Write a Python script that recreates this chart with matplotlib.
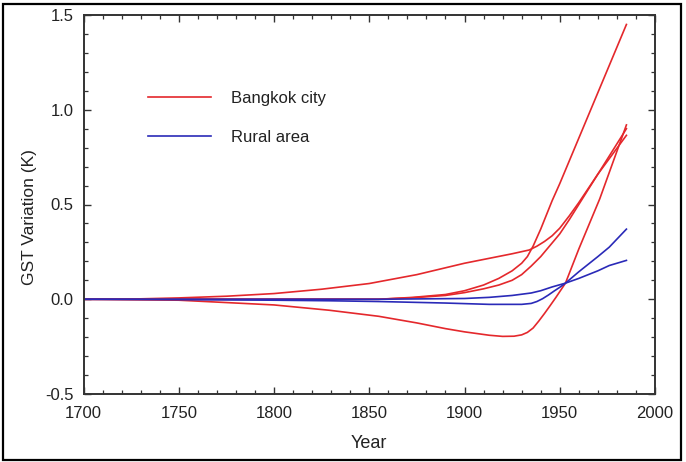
import matplotlib
matplotlib.use("Agg")
import matplotlib.pyplot as plt
from matplotlib.patches import Rectangle
from matplotlib.ticker import MultipleLocator

plt.rcParams['font.family'] = ['Liberation Sans', 'DejaVu Sans']

# ---- data ----
red_a_years = [1700, 1750, 1800, 1855, 1873, 1890, 1900, 1910, 1918, 1925, 1930, 1933, 1936, 1940, 1946, 1950, 1960, 1970, 1985]
red_a_vals = [0.0, 0.0, 0.0, 0.0, 0.01, 0.025, 0.045, 0.075, 0.11, 0.15, 0.19, 0.225, 0.28, 0.37, 0.52, 0.61, 0.85, 1.09, 1.45]

red_b_years = [1700, 1725, 1750, 1775, 1800, 1825, 1850, 1875, 1900, 1925, 1934, 1938, 1942, 1946, 1950, 1955, 1960, 1970, 1985]
red_b_vals = [0.0, 0.001, 0.007, 0.016, 0.03, 0.053, 0.083, 0.13, 0.19, 0.24, 0.26, 0.28, 0.305, 0.335, 0.375, 0.44, 0.51, 0.66, 0.865]

red_c_years = [1700, 1750, 1800, 1855, 1873, 1890, 1900, 1910, 1918, 1925, 1930, 1935, 1940, 1945, 1950, 1955, 1960, 1970, 1985]
red_c_vals = [0.0, 0.0, 0.0, 0.0, 0.008, 0.02, 0.035, 0.055, 0.075, 0.1, 0.13, 0.175, 0.225, 0.285, 0.345, 0.42, 0.5, 0.66, 0.9]

red_d_years = [1700, 1750, 1800, 1829, 1855, 1875, 1890, 1900, 1913, 1920, 1926, 1930, 1933, 1936, 1939, 1942, 1945, 1948, 1953, 1960, 1971, 1985]
red_d_vals = [0.0, -0.005, -0.03, -0.058, -0.09, -0.125, -0.155, -0.172, -0.19, -0.196, -0.195, -0.188, -0.175, -0.152, -0.115, -0.075, -0.033, 0.01, 0.085, 0.265, 0.53, 0.92]

blue_a_years = [1700, 1750, 1800, 1855, 1900, 1913, 1925, 1935, 1940, 1946, 1953, 1960, 1970, 1976, 1985]
blue_a_vals = [0.0, 0.0, 0.0, 0.0, 0.004, 0.01, 0.02, 0.033, 0.045, 0.065, 0.085, 0.11, 0.15, 0.178, 0.205]

blue_b_years = [1700, 1750, 1800, 1829, 1855, 1890, 1913, 1930, 1935, 1938, 1941, 1944, 1947, 1950, 1953, 1960, 1970, 1976, 1985]
blue_b_vals = [0.0, -0.002, -0.005, -0.008, -0.012, -0.02, -0.027, -0.027, -0.022, -0.012, 0.003, 0.022, 0.043, 0.063, 0.085, 0.145, 0.225, 0.275, 0.37]

legend_labels = ["Bangkok city", "Rural area"]
x_ticks = [1700, 1750, 1800, 1850, 1900, 1950, 2000]
y_ticks = [-0.5, 0.0, 0.5, 1.0, 1.5]

RED = '#e4282c'
BLUE = '#2a2ab8'

W, H = 686, 462
fig = plt.figure(figsize=(W / 100, H / 100), dpi=100)
ax = fig.add_axes([83.5 / W, 1 - 394 / H, (655 - 83.5) / W, (394 - 15) / H])

lw = 1.2
la, = ax.plot(red_a_years, red_a_vals, color=RED, lw=lw)
ax.plot(red_b_years, red_b_vals, color=RED, lw=lw)
ax.plot(red_c_years, red_c_vals, color=RED, lw=lw)
ax.plot(red_d_years, red_d_vals, color=RED, lw=lw)
lb, = ax.plot(blue_a_years, blue_a_vals, color=BLUE, lw=lw)
ax.plot(blue_b_years, blue_b_vals, color=BLUE, lw=lw)

ax.set_xlim(1700, 2000)
ax.set_ylim(-0.5, 1.5)
ax.set_xticks(x_ticks)
ax.set_xticklabels([str(t) for t in x_ticks])
ax.set_yticks(y_ticks)
ax.set_yticklabels([f"{t:.1f}" for t in y_ticks])
ax.xaxis.set_minor_locator(MultipleLocator(10))
ax.yaxis.set_minor_locator(MultipleLocator(0.1))
ax.tick_params(which='both', direction='in', top=True, right=True, color='#333333')
ax.tick_params(which='major', length=5, width=1.0, labelsize=12, colors='#333333', labelcolor='#222222')
ax.tick_params(which='minor', length=3, width=0.9, colors='#333333')
ax.tick_params(axis='x', which='major', pad=9)
ax.tick_params(axis='y', which='major', pad=7)
for s in ax.spines.values():
    s.set_linewidth(1.4)
    s.set_color('#333333')

ax.set_xlabel("Year", fontsize=13, color='#222222')
ax.set_ylabel("GST Variation (K)", fontsize=12.5, color='#222222')
ax.xaxis.set_label_coords(0.5, -0.108)
ax.yaxis.set_label_coords(-0.082, 0.467)

leg = ax.legend([la, lb], legend_labels, loc='upper left',
                bbox_to_anchor=((148 - 83.5) / 571.5, (394 - 91) / 379),
                frameon=False, fontsize=12, handlelength=3.8, handletextpad=1.2,
                labelspacing=1.45, borderpad=0, borderaxespad=0)
for t in leg.get_texts():
    t.set_color('#222222')

fig.patches.append(Rectangle((3 / W, 2 / H), (681 - 3) / W, (460 - 4) / H,
                             transform=fig.transFigure, fill=False,
                             edgecolor='black', linewidth=1.6))

fig.savefig("out.png", dpi=100)
